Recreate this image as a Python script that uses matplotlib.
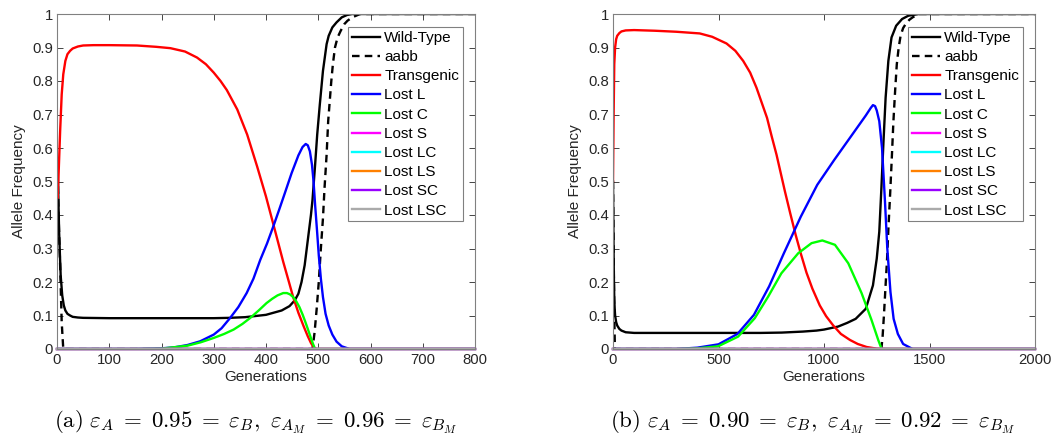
import matplotlib
matplotlib.use("Agg")
import matplotlib.pyplot as plt
from matplotlib.ticker import FuncFormatter

plt.rcParams['font.family'] = ['Liberation Sans', 'DejaVu Sans']
plt.rcParams['mathtext.fontset'] = 'cm'

labels = ["Wild-Type", "aabb", "Transgenic", "Lost L", "Lost C", "Lost S",
          "Lost LC", "Lost LS", "Lost SC", "Lost LSC"]
colors = ["black", "black", "#ff0000", "#0000ff", "#00ff00", "#ff00ff",
          "#00ffff", "#ff8000", "#9900ff", "#aaaaaa"]
styles = ["-", "--", "-", "-", "-", "-", "-", "-", "-", "-"]

# ---------------- panel (a) ----------------
wt_a_x = [0, 1, 2, 4, 7, 10, 13, 16, 20, 25, 30, 40, 50, 100, 200, 300, 330, 360, 400, 430, 445, 455,
          462, 468, 474, 478, 482, 486, 489, 494, 498, 503, 509, 516, 520, 527, 535, 545, 555, 565, 600, 800]
wt_a_y = [0.5, 0.55, 0.5, 0.35, 0.22, 0.16, 0.13, 0.115, 0.105, 0.1, 0.096, 0.094, 0.093, 0.092, 0.092,
          0.092, 0.093, 0.095, 0.102, 0.115, 0.128, 0.145, 0.165, 0.2, 0.25, 0.3, 0.35, 0.4, 0.445, 0.55,
          0.64, 0.73, 0.83, 0.91, 0.935, 0.96, 0.975, 0.99, 0.997, 1.0, 1.0, 1.0]
aabb_a_x = [0, 1, 3, 6, 9, 12, 480, 489, 493, 497, 501, 505, 509, 512, 516, 519, 522, 525, 528, 532,
            537, 543, 550, 556, 565, 580, 800]
aabb_a_y = [0.5, 0.55, 0.4, 0.25, 0.08, 0.0, 0.0, 0.0, 0.05, 0.12, 0.2, 0.3, 0.39, 0.48, 0.58, 0.68,
            0.74, 0.8, 0.85, 0.9, 0.93, 0.95, 0.97, 0.98, 0.99, 1.0, 1.0]
tg_a_x = [0, 1, 3, 6, 9, 12, 16, 20, 25, 30, 40, 50, 70, 100, 153, 190, 217, 245, 268, 285, 300, 313,
          325, 345, 364, 383, 400, 417, 433, 443, 452, 462, 472, 480, 486, 492, 497, 800]
tg_a_y = [0.5, 0.45, 0.52, 0.65, 0.76, 0.82, 0.86, 0.88, 0.89, 0.897, 0.903, 0.906, 0.907, 0.907,
          0.906, 0.902, 0.898, 0.888, 0.87, 0.85, 0.825, 0.8, 0.773, 0.715, 0.64, 0.545, 0.455, 0.355,
          0.26, 0.205, 0.155, 0.108, 0.068, 0.038, 0.018, 0.004, 0.0, 0.0]
ll_a_x = [0, 150, 200, 225, 250, 274, 300, 315, 331, 347, 363, 376, 389, 402, 414, 425, 436, 449, 462,
          470, 476, 480, 484, 488, 491, 494, 498, 501, 505, 509, 514, 520, 527, 535, 545, 560, 800]
ll_a_y = [0.0, 0.0, 0.002, 0.005, 0.012, 0.023, 0.043, 0.062, 0.092, 0.125, 0.167, 0.21, 0.266, 0.315,
          0.366, 0.415, 0.465, 0.525, 0.578, 0.603, 0.612, 0.608, 0.59, 0.55, 0.5, 0.43, 0.346, 0.28,
          0.21, 0.155, 0.105, 0.07, 0.043, 0.022, 0.008, 0.0, 0.0]
lc_a_x = [0, 150, 200, 250, 275, 300, 320, 338, 355, 370, 386, 401, 412, 422, 433, 440, 446, 452, 458,
          464, 470, 475, 480, 485, 490, 494, 800]
lc_a_y = [0.0, 0.0, 0.001, 0.01, 0.02, 0.033, 0.045, 0.058, 0.075, 0.093, 0.115, 0.137, 0.15, 0.16,
          0.167, 0.167, 0.163, 0.155, 0.142, 0.125, 0.103, 0.082, 0.06, 0.037, 0.015, 0.0, 0.0]
zero_a_x = [0, 800]
zero_a_y = [0.0, 0.0]

# ---------------- panel (b) ----------------
wt_b_x = [0, 2, 4, 6, 8, 10, 15, 20, 30, 40, 60, 80, 100, 400, 700, 800, 900, 965, 1000, 1067, 1110,
          1150, 1198, 1232, 1250, 1262, 1272, 1282, 1292, 1305, 1320, 1342, 1370, 1400, 1450, 2000]
wt_b_y = [0.5, 0.35, 0.22, 0.15, 0.12, 0.1, 0.08, 0.07, 0.06, 0.055, 0.05, 0.049, 0.048, 0.048, 0.048,
          0.049, 0.052, 0.055, 0.058, 0.067, 0.078, 0.09, 0.12, 0.19, 0.27, 0.35, 0.48, 0.62, 0.75,
          0.86, 0.93, 0.965, 0.985, 0.995, 1.0, 1.0]
aabb_b_x = [0, 3, 6, 9, 1272, 1278, 1284, 1291, 1299, 1306, 1314, 1322, 1329, 1337, 1345, 1354, 1363,
            1375, 1389, 1405, 1420, 1450, 2000]
aabb_b_y = [0.5, 0.3, 0.1, 0.0, 0.0, 0.04, 0.1, 0.18, 0.27, 0.37, 0.47, 0.58, 0.68, 0.77, 0.85, 0.9,
            0.935, 0.958, 0.972, 0.983, 0.99, 1.0, 1.0]
tg_b_x = [0, 3, 6, 10, 15, 20, 30, 40, 60, 100, 200, 300, 411, 470, 538, 580, 617, 650, 680, 705, 730,
          752, 775, 795, 815, 840, 866, 890, 917, 945, 980, 1010, 1044, 1080, 1123, 1160, 1202, 1250,
          1300, 2000]
tg_b_y = [0.5, 0.7, 0.85, 0.9, 0.925, 0.935, 0.943, 0.948, 0.951, 0.952, 0.95, 0.947, 0.942, 0.932,
          0.912, 0.89, 0.86, 0.825, 0.78, 0.735, 0.69, 0.635, 0.58, 0.525, 0.47, 0.405, 0.34, 0.285,
          0.228, 0.18, 0.13, 0.098, 0.07, 0.045, 0.027, 0.015, 0.006, 0.001, 0.0, 0.0]
ll_b_x = [0, 300, 400, 500, 590, 668, 740, 810, 890, 968, 1048, 1127, 1198, 1222, 1232, 1242, 1250,
          1262, 1275, 1289, 1300, 1315, 1330, 1350, 1375, 1420, 2000]
ll_b_y = [0.0, 0.0, 0.004, 0.014, 0.045, 0.102, 0.187, 0.286, 0.395, 0.49, 0.564, 0.634, 0.697, 0.72,
          0.728, 0.725, 0.712, 0.68, 0.6, 0.44, 0.3, 0.17, 0.09, 0.045, 0.015, 0.0, 0.0]
lc_b_x = [0, 300, 400, 498, 593, 672, 735, 798, 878, 941, 992, 1052, 1115, 1178, 1225, 1257, 1273, 2000]
lc_b_y = [0.0, 0.0, 0.002, 0.008, 0.037, 0.092, 0.156, 0.226, 0.286, 0.316, 0.324, 0.311, 0.256, 0.167,
          0.087, 0.027, 0.0, 0.0]
zero_b_x = [0, 2000]
zero_b_y = [0.0, 0.0]

x_ticks_a = [0, 100, 200, 300, 400, 500, 600, 700, 800]
x_ticks_b = [0, 500, 1000, 1500, 2000]
y_ticks = [0, 0.1, 0.2, 0.3, 0.4, 0.5, 0.6, 0.7, 0.8, 0.9, 1]

caption_a = (r'$\mathrm{(a)}\ \varepsilon_A \;=\; 0.95 \;=\; \varepsilon_B,\ '
             r'\varepsilon_{A_M} \;=\; 0.96 \;=\; \varepsilon_{B_M}$')
caption_b = (r'$\mathrm{(b)}\ \varepsilon_A \;=\; 0.90 \;=\; \varepsilon_B,\ '
             r'\varepsilon_{A_M} \;=\; 0.92 \;=\; \varepsilon_{B_M}$')

fig = plt.figure(figsize=(10.57, 4.38), dpi=100)
ax_a = fig.add_axes([57 / 1057, 89 / 438, 418 / 1057, 335 / 438])
ax_b = fig.add_axes([613 / 1057, 89 / 438, 422 / 1057, 335 / 438])

panels = [
    (ax_a, [(wt_a_x, wt_a_y), (aabb_a_x, aabb_a_y), (tg_a_x, tg_a_y), (ll_a_x, ll_a_y), (lc_a_x, lc_a_y)]
     + [(zero_a_x, zero_a_y)] * 5, 800, x_ticks_a, (463 - 57) / 418),
    (ax_b, [(wt_b_x, wt_b_y), (aabb_b_x, aabb_b_y), (tg_b_x, tg_b_y), (ll_b_x, ll_b_y), (lc_b_x, lc_b_y)]
     + [(zero_b_x, zero_b_y)] * 5, 2000, x_ticks_b, (1023 - 613) / 422),
]

edge = '#808080'
txt = '#262626'
for ax, series, xmax, xt, lx in panels:
    for i, (xs, ys) in enumerate(series):
        kw = dict(color=colors[i], lw=1.7, label=labels[i], solid_joinstyle='round')
        if styles[i] == '--':
            kw['dashes'] = (3.2, 2.2)
        if i >= 5:
            kw['clip_on'] = False
        ax.plot(xs, ys, **kw)
    ax.set_xlim(0, xmax)
    ax.set_ylim(0, 1)
    ax.set_xticks(xt)
    ax.set_yticks(y_ticks)
    ax.yaxis.set_major_formatter(FuncFormatter(lambda v, p: ('%g' % round(v, 2))))
    ax.tick_params(direction='in', top=True, right=True, length=4, width=0.6, color=txt,
                   labelsize=10.7, labelcolor=txt, pad=3)
    for s in ax.spines.values():
        s.set_color(edge)
        s.set_linewidth(0.8)
    ax.set_xlabel('Generations', fontsize=11, color=txt, labelpad=2)
    ax.set_ylabel('Allele Frequency', fontsize=11, color=txt, labelpad=4)
    leg = ax.legend(loc='upper right', bbox_to_anchor=(lx, 0.961), fontsize=11, labelspacing=0.34,
                    handlelength=1.8, handletextpad=0.3, borderpad=0.25, borderaxespad=0,
                    fancybox=False, framealpha=1, edgecolor=edge)
    leg.get_frame().set_linewidth(0.8)

fig.text(256 / 1057, 1 - 422 / 438, caption_a, ha='center', va='center', fontsize=16.5)
fig.text(812 / 1057, 1 - 422 / 438, caption_b, ha='center', va='center', fontsize=16.5)

fig.savefig('out.png', dpi=100)
